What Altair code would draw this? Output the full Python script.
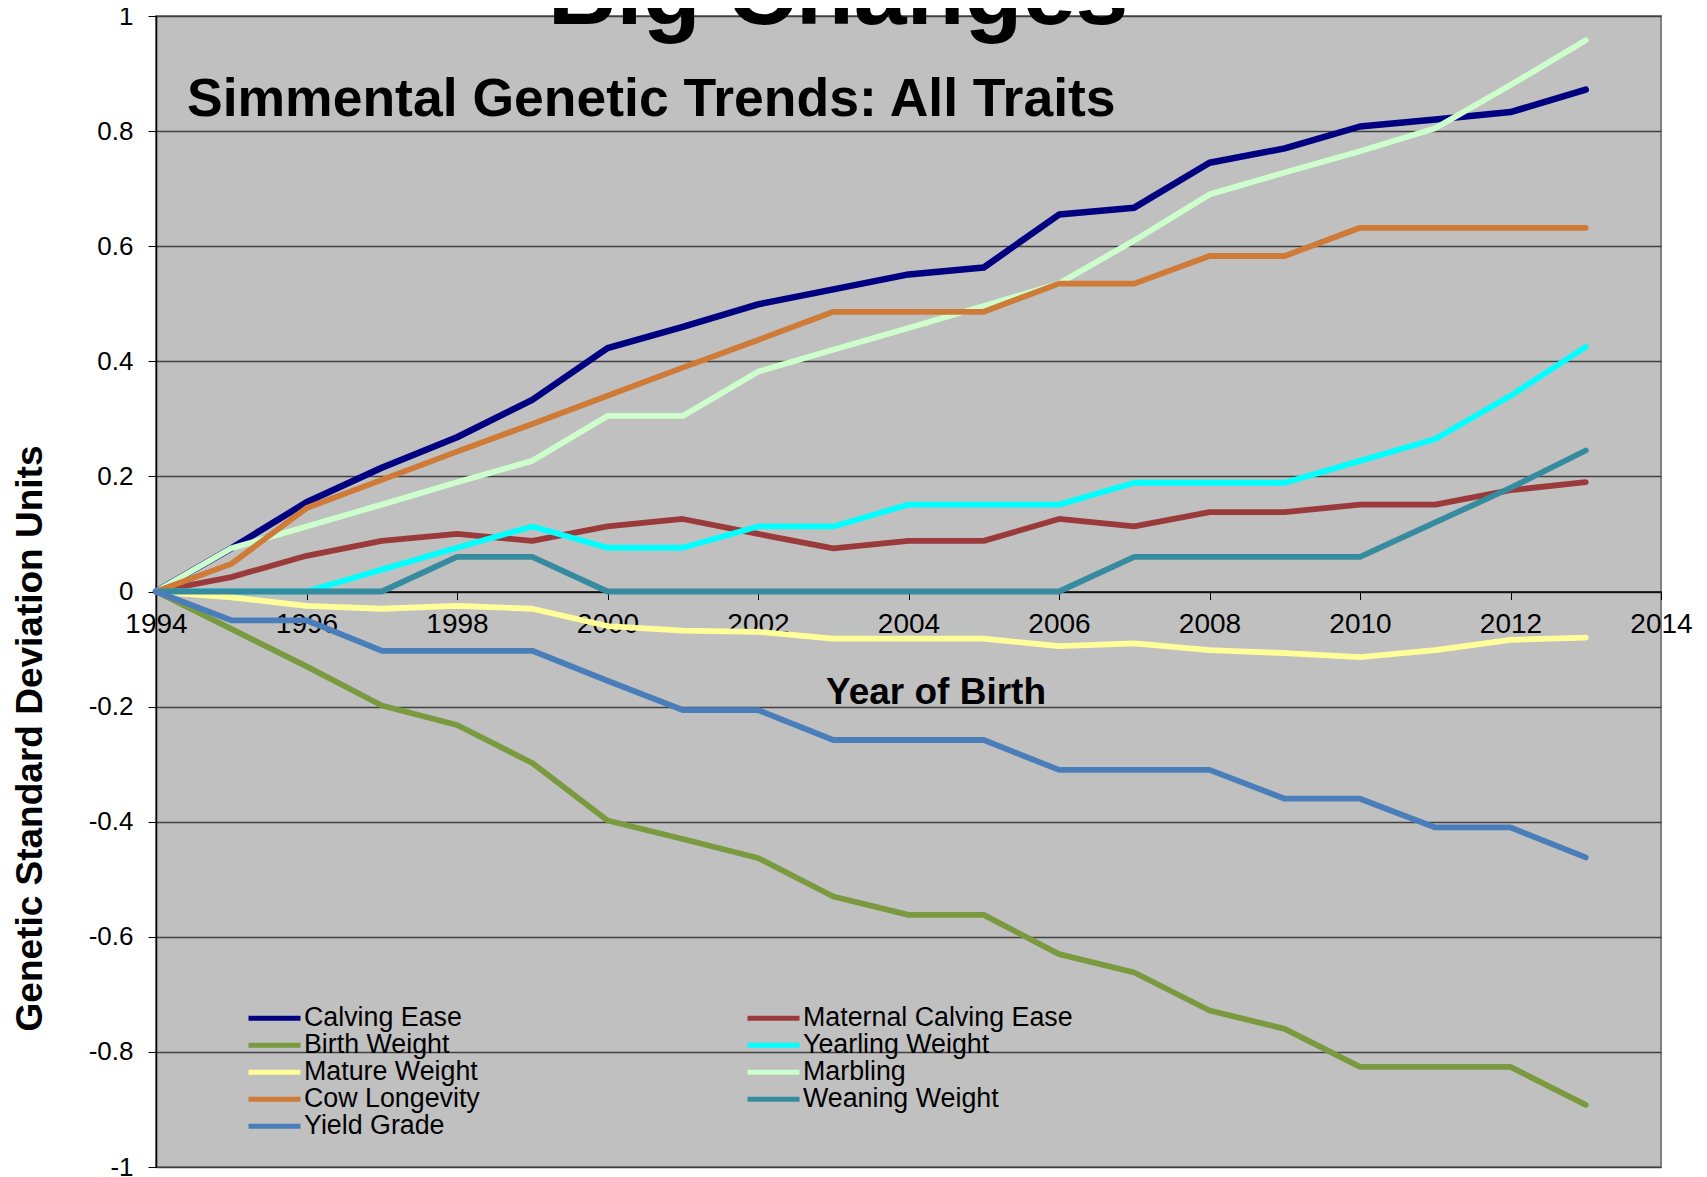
import altair as alt
import pandas as pd

years = list(range(1994, 2014))

# drawing order (later series on top)
traits = [
    "Calving Ease", "Maternal Calving Ease", "Birth Weight", "Yearling Weight",
    "Mature Weight", "Marbling", "Cow Longevity", "Weaning Weight", "Yield Grade",
]
trait_colors = {
    "Calving Ease": "#000080",
    "Maternal Calving Ease": "#9B3A3A",
    "Birth Weight": "#7A9A40",
    "Yearling Weight": "#00FFFF",
    "Mature Weight": "#FFFF99",
    "Marbling": "#CCFFCC",
    "Cow Longevity": "#CF7A36",
    "Weaning Weight": "#378B9F",
    "Yield Grade": "#4A7EBB",
}
# legend order (filled column by column)
legend_order = [
    "Calving Ease", "Birth Weight", "Mature Weight", "Cow Longevity", "Yield Grade",
    "Maternal Calving Ease", "Yearling Weight", "Marbling", "Weaning Weight",
]

calving_ease = [0, 0.075, 0.155, 0.215, 0.268, 0.333, 0.423, 0.46, 0.499, 0.525,
                0.551, 0.563, 0.655, 0.667, 0.745, 0.77, 0.808, 0.82, 0.833, 0.872]
maternal_calving_ease = [0, 0.025, 0.062, 0.088, 0.100, 0.088, 0.113, 0.126, 0.100, 0.075,
                         0.088, 0.088, 0.126, 0.113, 0.138, 0.138, 0.151, 0.151, 0.176, 0.19]
birth_weight = [0, -0.065, -0.13, -0.198, -0.232, -0.298, -0.398, -0.43, -0.463, -0.53,
                -0.562, -0.562, -0.63, -0.662, -0.728, -0.76, -0.826, -0.826, -0.826, -0.892]
yearling_weight = [0, 0, 0, 0.038, 0.076, 0.113, 0.076, 0.076, 0.113, 0.113,
                   0.151, 0.151, 0.151, 0.189, 0.189, 0.189, 0.227, 0.265, 0.34, 0.425]
mature_weight = [0, -0.01, -0.025, -0.03, -0.025, -0.03, -0.06, -0.068, -0.07, -0.082,
                 -0.082, -0.082, -0.095, -0.09, -0.102, -0.107, -0.114, -0.102, -0.084, -0.08]
marbling = [0, 0.075, 0.113, 0.151, 0.19, 0.227, 0.305, 0.305, 0.382, 0.42,
            0.458, 0.496, 0.535, 0.61, 0.69, 0.728, 0.765, 0.805, 0.88, 0.958]
cow_longevity = [0, 0.048, 0.145, 0.194, 0.243, 0.291, 0.34, 0.389, 0.437, 0.486,
                 0.486, 0.486, 0.535, 0.535, 0.583, 0.583, 0.632, 0.632, 0.632, 0.632]
weaning_weight = [0, 0, 0, 0, 0.06, 0.06, 0, 0, 0, 0,
                  0, 0, 0, 0.06, 0.06, 0.06, 0.06, 0.12, 0.18, 0.245]
yield_grade = [0, -0.05, -0.05, -0.103, -0.103, -0.103, -0.155, -0.206, -0.206, -0.258,
               -0.258, -0.258, -0.31, -0.31, -0.31, -0.36, -0.36, -0.41, -0.41, -0.462]

series = [calving_ease, maternal_calving_ease, birth_weight, yearling_weight,
          mature_weight, marbling, cow_longevity, weaning_weight, yield_grade]

x_ticks = list(range(1994, 2015, 2))
y_ticks = [-1, -0.8, -0.6, -0.4, -0.2, 0, 0.2, 0.4, 0.6, 0.8, 1]

rows = []
for name, vals in zip(traits, series):
    for yr, v in zip(years, vals):
        rows.append({"trait": name, "year": yr, "value": v})
df = pd.DataFrame(rows)

FONT = "Liberation Sans"
W, H = 1505, 1151

lines = alt.Chart(df).mark_line(strokeCap="round", strokeJoin="round").encode(
    x=alt.X("year:Q", scale=alt.Scale(domain=[1994, 2014], nice=False, zero=False),
            axis=alt.Axis(values=x_ticks, labelExpr="'' + datum.value", labelFontSize=28,
                          labelFont=FONT, labelColor="black", tickColor="black", tickSize=8,
                          tickWidth=1, domainColor="black", domainWidth=1.5, grid=False,
                          offset=-H / 2, labelPadding=11, labelFlush=False,
                          labelOverlap=False, title=None)),
    y=alt.Y("value:Q", scale=alt.Scale(domain=[-1, 1], nice=False),
            axis=alt.Axis(values=y_ticks, labelExpr="'' + datum.value", labelFontSize=26,
                          labelFont=FONT, labelColor="black", tickColor="black", tickSize=8,
                          labelPadding=15, grid=True, gridColor="#404040", gridWidth=1.3,
                          domainColor="black", domainWidth=1.5,
                          title="Genetic Standard Deviation Units", titleFont=FONT,
                          titleFontSize=37, titleFontWeight="bold", titleColor="black",
                          titleX=-126, titleY=722, titleAngle=270, titleAlign="center",
                          titleBaseline="middle")),
    color=alt.Color("trait:N",
                    scale=alt.Scale(domain=legend_order,
                                    range=[trait_colors[t] for t in legend_order]),
                    legend=alt.Legend(orient="none", legendX=90, legendY=989, columns=2,
                                      columnPadding=265, rowPadding=0, clipHeight=26.4,
                                      labelFontSize=26.8, labelFont=FONT, labelColor="black",
                                      symbolType="stroke", symbolSize=2704,
                                      symbolStrokeWidth=5, labelOffset=1,
                                      padding=0, labelLimit=500, title=None)),
    strokeWidth=alt.condition(alt.datum.trait == "Calving Ease", alt.value(6.5), alt.value(5.8)),
)

big = alt.Chart(pd.DataFrame({"t": ["Big Changes"]})).mark_text(
    font=FONT, fontSize=95, fontWeight="bold", align="center", baseline="alphabetic",
    color="black").encode(text="t:N", x=alt.value(682), y=alt.value(8))

sub = alt.Chart(pd.DataFrame({"t": ["Simmental Genetic Trends: All Traits"]})).mark_text(
    font=FONT, fontSize=53.5, fontWeight="bold", align="left", baseline="alphabetic",
    color="black").encode(text="t:N", x=alt.value(31), y=alt.value(100))

xtitle = alt.Chart(pd.DataFrame({"t": ["Year of Birth"]})).mark_text(
    font=FONT, fontSize=37, fontWeight="bold", align="center", baseline="alphabetic",
    color="black").encode(text="t:N", x=alt.value(780), y=alt.value(688))

chart = alt.layer(lines, big, sub, xtitle).properties(
    width=W, height=H,
    autosize=alt.AutoSizeParams(type="none"),
    padding={"left": 148, "top": 8, "right": 38, "bottom": 10},
    background="white",
).configure_view(fill="#C0C0C0", stroke="#808080", strokeWidth=2)

chart.save("out.html", embed_options={"renderer": "svg", "actions": False})
